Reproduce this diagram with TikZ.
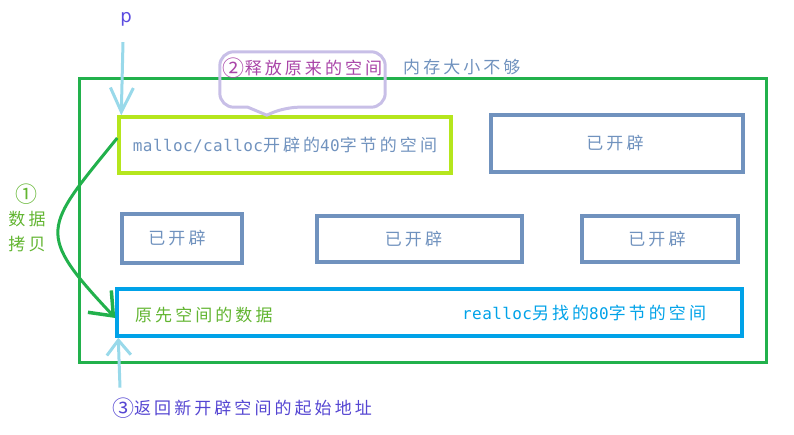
\documentclass[tikz,border=0pt]{standalone}
\usepackage{fontspec}
\setmainfont{Noto Sans CJK SC}[LetterSpace=18]
\newfontfamily\monof{DejaVu Sans Mono}[LetterSpace=2.5]
\newfontfamily\latinf{DejaVu Sans}
\usetikzlibrary{arrows.meta,calc}
\definecolor{outergreen}{HTML}{22B14C}
\definecolor{limebox}{HTML}{B5E61D}
\definecolor{steel}{HTML}{7092BE}
\definecolor{turq}{HTML}{00A2E8}
\definecolor{skyarrow}{HTML}{99D9EA}
\definecolor{lavendr}{HTML}{C8BFE7}
\definecolor{plum}{HTML}{A945A8}
\definecolor{indigoish}{HTML}{5546D2}
\definecolor{pblue}{HTML}{5B4BE0}
\definecolor{labelgreen}{HTML}{62B531}
\newcommand\cjksize{\fontsize{17pt}{20pt}\selectfont}
\newcommand\monosize{\monof\fontsize{16pt}{20pt}\selectfont}
\newcommand\circnum[1]{\raisebox{-1.8pt}{\fontsize{22pt}{20pt}\selectfont #1}}
\begin{document}
\begin{tikzpicture}[x=1pt,y=-1pt,
  every node/.style={inner sep=0pt,font=\cjksize},
  memory/.style={draw=outergreen,line width=3pt},
  oldspace/.style={draw=limebox,line width=3.5pt,text=steel},
  used/.style={draw=steel,line width=3.5pt,text=steel},
  newspace/.style={draw=turq,line width=3.5pt},
  textw/.style={anchor=west},
  ptrarrow/.style={draw=skyarrow,line width=3pt,-{Straight Barb[length=24pt,width=23pt]}},
  retarrow/.style={draw=skyarrow,line width=3pt,-{Straight Barb[length=15pt,width=24pt]}},
  copyarrow/.style={draw=outergreen,line width=3pt,-{Straight Barb[length=20pt,width=32pt,line width=3.5pt]}},
  calloutline/.style={draw=lavendr,line width=3pt,line join=round}]
\useasboundingbox (0,0) rectangle (794,435);

% outer memory block
\node[memory,minimum width=687pt,minimum height=283pt] (mem) at (422.5,220.5) {};

% blocks
\node[oldspace,minimum width=332pt,minimum height=56pt] (old) at (285,145)
  {{\monosize malloc/calloc}开辟的{\monosize 40}字节的空间};
\node[used,minimum width=252pt,minimum height=57pt] (u1) at (617,143.5) {已开辟\kern4pt};
\node[used,minimum width=120pt,minimum height=49pt] (u2) at (182,238.5) {已开辟\kern10pt};
\node[used,minimum width=205pt,minimum height=46pt] (u3) at (419.5,239) {已开辟\kern12pt};
\node[used,minimum width=156pt,minimum height=46pt] (u4) at (660,239) {已开辟\kern6pt};
\node[newspace,minimum width=625pt,minimum height=47pt] (new) at (429.5,312.5) {};
\node[textw,text=labelgreen] (olddata) at (135,315.5) {原先空间的数据};
\node[textw,text=turq] (newtxt) at (462,313) {{\monosize realloc}另找的{\monosize 80}字节的空间};

% callout
\node[text=plum,minimum width=165pt,text height=22.5pt,text depth=32.5pt] (free) at (302.5,79.5) {\circnum{②}释放原来的空间};
\draw[calloutline] ($(free.south west)+(28,0)$) [rounded corners=14pt] -- (free.south west)
  -- (free.north west) -- (free.north east) -- (free.south east)
  -- ($(free.south west)+(65,0)$) [sharp corners] -- ($(free.south west)+(47,8)$) -- cycle;
\node[textw,text=steel] (short) at (403,67) {内存大小不够};

% pointer p
\node[text=pblue,font=\latinf\fontsize{18pt}{20pt}\selectfont] (p) at (126,19) {p};
\draw[ptrarrow] ($(p.south)+(-3,16)$) -- ($(old.north west)+(4,0)$);

% copy label and arrow
\node[text=labelgreen,align=center,font=\fontsize{17pt}{25pt}\selectfont] (copy) at (27,218) {\circnum{①}\\数据\\拷贝};
\draw[copyarrow] ([yshift=7pt]old.west) .. controls (43.5,229) and (34.6,232) .. ([yshift=-5.5pt]new.west);

% return address
\node[textw,text=indigoish] (ret) at (112,408) {\circnum{③}返回新开辟空间的起始地址};
\draw[retarrow] ($(ret.north west)+(8,-10)$) -- ($(new.south west)+(3,0)$);
\end{tikzpicture}
\end{document}
